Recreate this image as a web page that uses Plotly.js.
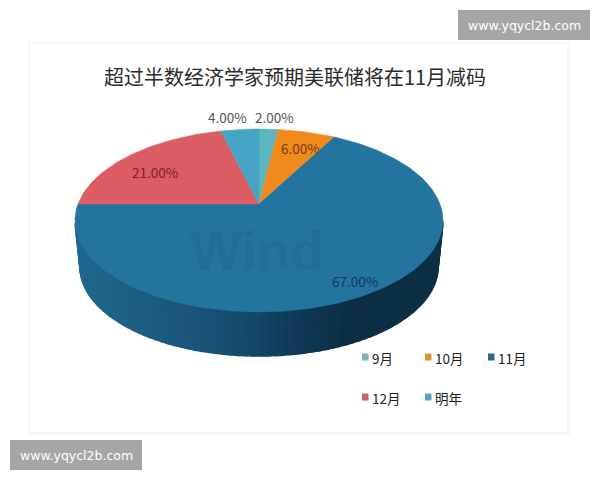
<!DOCTYPE html>
<html>
<head>
<meta charset="utf-8">
<script src="https://cdn.plot.ly/plotly-3.0.1.min.js"></script>
<style>html,body{margin:0;padding:0;background:#fff}#chart{width:600px;height:480px}</style>
</head>
<body>
<div id="chart"></div>
<script>
var categories = ['9月', '10月', '11月', '12月', '明年'];
var values = [2, 6, 67, 21, 4];
var sliceColors = ['#5bb7bd', '#f08a1d', '#23759f', '#dc5c63', '#46a5c4'];
var legendColors = ['#78b8b6', '#e0913a', '#2f6b8e', '#c9646d', '#5ba4bf'];
var titleText = '超过半数经济学家预期美联储将在11月减码';
var siteText = 'www.yqycl2b.com';

var labelColors = ['#555555', '#7a3d12', '#123a5c', '#7a2329', '#555555'];
var labelPos = [[274, 117], [300, 148], [355, 281], [155, 172], [227, 117]];
var legendPos = [[362, 357], [425, 357], [488, 357], [362, 397], [425, 397]];

var pivot = [259, 204], radiusX = 181, radiusY = 88.5, tilt = 0.18;
var depth = 47, baseScale = 0.973;
var sideStops = [[75, '#20688f'], [130, '#1d5f84'], [190, '#19567a'], [250, '#14486a'],
                 [300, '#0f3854'], [350, '#0c2d43'], [445, '#0d3045']];

function project(pct, scale, dy) {
  var t = pct / 100 * 2 * Math.PI, d = 1 + tilt * Math.cos(t);
  return [pivot[0] + scale * radiusX * Math.sin(t) / d,
          pivot[1] + dy - scale * radiusY * Math.cos(t) / d];
}
function hex(c) { return [1, 3, 5].map(function (i) { return parseInt(c.substr(i, 2), 16); }); }
function sideColor(x) {
  for (var i = 1; i < sideStops.length; i++) {
    if (x <= sideStops[i][0]) {
      var f = Math.max(0, (x - sideStops[i - 1][0]) / (sideStops[i][0] - sideStops[i - 1][0]));
      var a = hex(sideStops[i - 1][1]), b = hex(sideStops[i][1]);
      return 'rgb(' + a.map(function (v, k) { return Math.round(v + (b[k] - v) * f); }).join(',') + ')';
    }
  }
  return sideStops[sideStops.length - 1][1];
}

var traces = [];
var starts = [], acc = 0;
values.forEach(function (v) { starts.push(acc); acc += v; });

// side wall of the 11月 slice: only the part of the rim that faces the viewer
var sideStart = starts[2], sideEnd = starts[2] + values[2], bands = 120;
for (var b = 0; b < bands; b++) {
  var p0 = sideStart + (sideEnd - sideStart) * b / bands;
  var p1 = sideStart + (sideEnd - sideStart) * (b + 1) / bands;
  if (Math.cos(p0 / 100 * 2 * Math.PI) > -tilt || Math.cos(p1 / 100 * 2 * Math.PI) > -tilt) continue;
  var a0 = project(p0, 1, 0), a1 = project(p1, 1, 0), c1 = project(p1, baseScale, depth), c0 = project(p0, baseScale, depth);
  var col = sideColor((a0[0] + a1[0]) / 2);
  traces.push({
    type: 'scatter', mode: 'lines', x: [a0[0], a1[0], c1[0], c0[0], a0[0]], y: [a0[1], a1[1], c1[1], c0[1], a0[1]],
    fill: 'toself', fillcolor: col, line: { color: col, width: 1.5 }, showlegend: false, hoverinfo: 'skip'
  });
}
// top face
values.forEach(function (v, i) {
  var xs = [pivot[0]], ys = [pivot[1]], n = Math.max(4, Math.round(v * 3));
  for (var k = 0; k <= n; k++) {
    var q = project(starts[i] + v * k / n, 1, 0);
    xs.push(q[0]); ys.push(q[1]);
  }
  xs.push(pivot[0]); ys.push(pivot[1]);
  traces.push({
    type: 'scatter', mode: 'lines', x: xs, y: ys, fill: 'toself', fillcolor: sliceColors[i],
    line: { color: sliceColors[i], width: 0.5 }, name: categories[i], showlegend: false, hoverinfo: 'skip'
  });
});

var annotations = [], shapes = [];
function rect(x0, y0, x1, y1, c) {
  shapes.push({ type: 'rect', xref: 'x', yref: 'y', x0: x0, y0: y0, x1: x1, y1: y1, layer: 'below', fillcolor: c, line: { width: 0 } });
}
function note(x, y, text, size, color, family, anchor, bold) {
  annotations.push({
    xref: 'x', yref: 'y', x: x, y: y, text: bold ? '<b>' + text + '</b>' : text, showarrow: false,
    xanchor: anchor || 'center', yanchor: 'middle', font: { size: size, color: color, family: family }
  });
}
var cjk = '"Noto Sans CJK SC", "Noto Sans", sans-serif';

rect(28, 42, 570, 435, '#f7f7f7');
rect(30, 44, 567, 432, '#ffffff');
rect(458, 10, 590, 40, '#a6a6a6');
rect(10, 440, 142, 470, '#a6a6a6');
note(524, 25, siteText, 12.5, '#ffffff', 'DejaVu Sans');
note(76, 455, siteText, 12.5, '#ffffff', 'DejaVu Sans');

note(257, 251, 'Wind', 55, 'rgba(20,70,115,0.13)', 'Liberation Sans', 'center', true);

values.forEach(function (v, i) {
  note(labelPos[i][0], labelPos[i][1], v.toFixed(2) + '%', 13.5, labelColors[i], cjk);
  var lx = legendPos[i][0], ly = legendPos[i][1];
  rect(lx, ly - 3.5, lx + 6.5, ly + 3.5, legendColors[i]);
  note(lx + 8, ly + 1, categories[i], 13.5, '#222222', cjk, 'left');
});

Plotly.newPlot('chart', traces, {
  width: 600, height: 480,
  margin: { l: 0, r: 0, t: 0, b: 0 },
  paper_bgcolor: '#ffffff', plot_bgcolor: 'rgba(0,0,0,0)',
  showlegend: false,
  title: { text: titleText, x: 295 / 600, y: 1 - 78 / 480, xanchor: 'center', yanchor: 'middle',
           font: { size: 20, color: '#2b2b2b', family: cjk } },
  xaxis: { range: [0, 600], visible: false, fixedrange: true },
  yaxis: { range: [480, 0], visible: false, fixedrange: true },
  shapes: shapes, annotations: annotations
}, { displayModeBar: false, staticPlot: true });
</script>
</body>
</html>
